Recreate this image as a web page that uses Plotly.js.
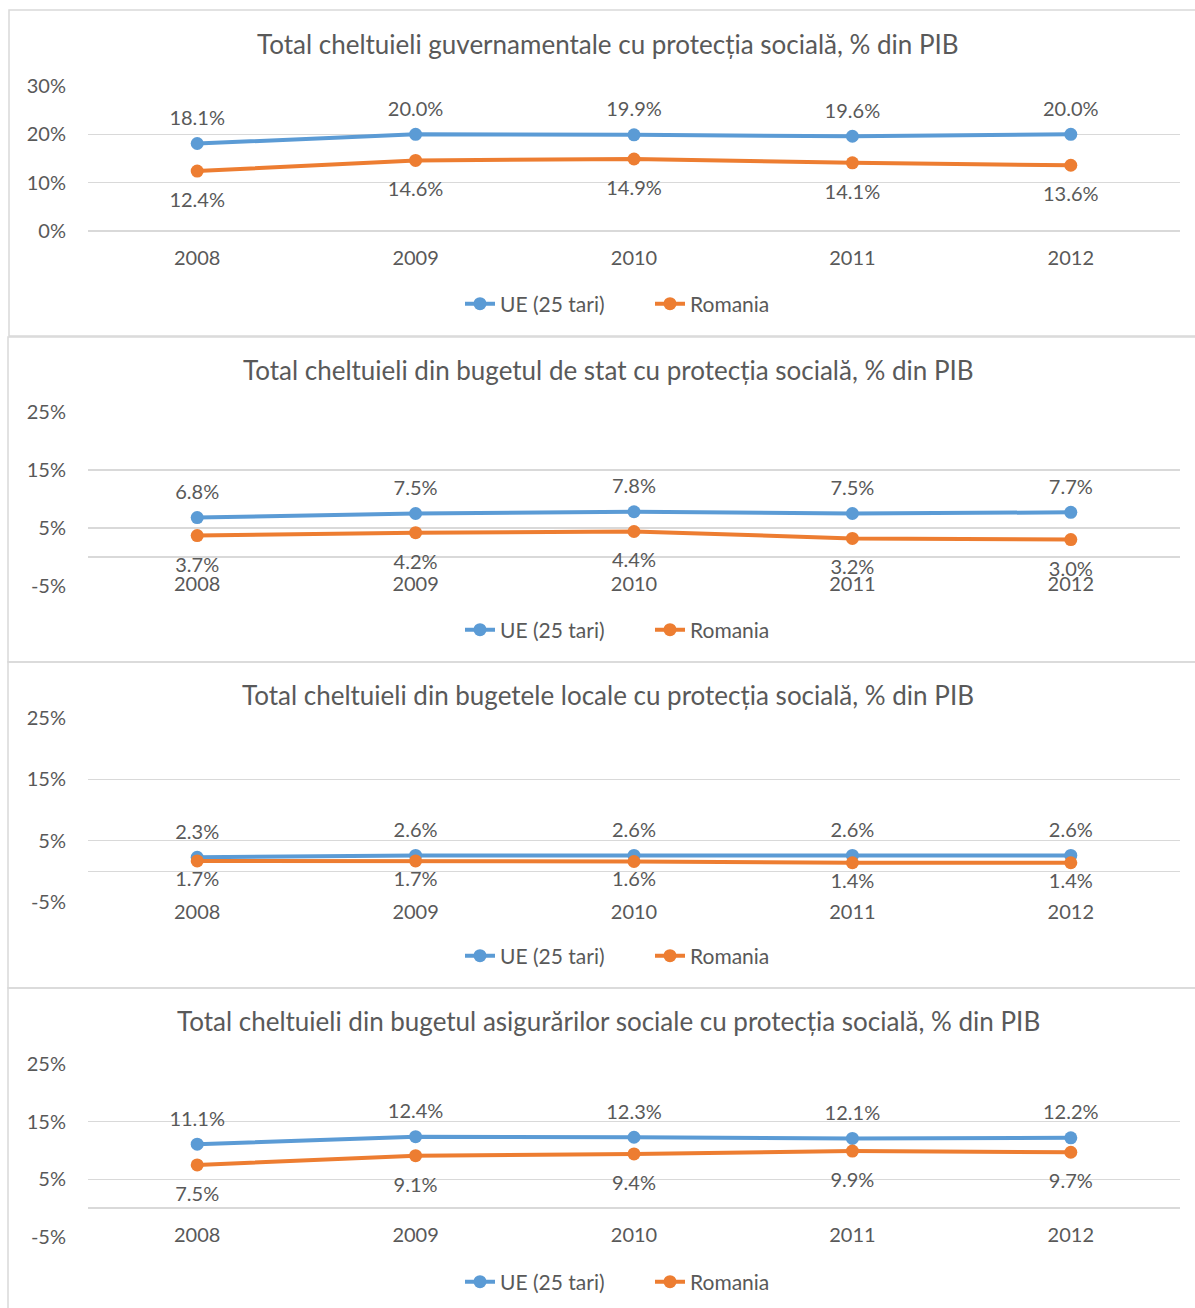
<!DOCTYPE html>
<html>
<head>
<meta charset="utf-8">
<script src="https://cdn.plot.ly/plotly-3.0.1.min.js"></script>
<style>
  html, body { margin: 0; padding: 0; background: #ffffff; }
  #chart { width: 1195px; height: 1308px; }
</style>
</head>
<body>
<div id="chart"></div>
<script>
// Years on the horizontal axis
const years = ['2008', '2009', '2010', '2011', '2012'];

// Series names
const seriesUE = 'UE (25 tari)';
const seriesRO = 'Romania';

// Panel titles
const titles = [
  'Total cheltuieli guvernamentale cu protecția socială, % din PIB',
  'Total cheltuieli din bugetul de stat cu protecția socială, % din PIB',
  'Total cheltuieli din bugetele locale cu protecția socială, % din PIB',
  'Total cheltuieli din bugetul asigurărilor sociale cu protecția socială, % din PIB'
];

// Social protection spending, % of GDP
const ueGuvernamentale = [18.1, 20.0, 19.9, 19.6, 20.0];
const roGuvernamentale = [12.4, 14.6, 14.9, 14.1, 13.6];

const ueBugetStat = [6.8, 7.5, 7.8, 7.5, 7.7];
const roBugetStat = [3.7, 4.2, 4.4, 3.2, 3.0];

const ueBugeteLocale = [2.3, 2.6, 2.6, 2.6, 2.6];
const roBugeteLocale = [1.7, 1.7, 1.6, 1.4, 1.4];

const ueAsigurari = [11.1, 12.4, 12.3, 12.1, 12.2];
const roAsigurari = [7.5, 9.1, 9.4, 9.9, 9.7];

// Y-axis ticks per panel
const tickValsPanel1 = [0, 10, 20, 30];
const tickTextPanel1 = ['0%', '10%', '20%', '30%'];
const tickValsOther = [-5, 5, 15, 25];
const tickTextOther = ['-5%', '5%', '15%', '25%'];

const W = 1195, H = 1308;
const py = px => 1 - px / H;   // pixel row -> paper y
const pxX = px => px / W;      // pixel column -> paper x

const BLUE = '#5B9BD5';
const ORANGE = '#ED7D31';
const TEXT = '#595959';
const GRID = '#D9D9D9';
const FONT = 'Lato, "Open Sans", sans-serif';

// Layout geometry of the four stacked panels (pixels)
const panels = [
  { ue: ueGuvernamentale, ro: roGuvernamentale, range: [0, 30],
    tickvals: tickValsPanel1, ticktext: tickTextPanel1,
    top: 86, bottom: 231, axisY: 244, titleY: 44, legendY: 304, box: [9, 10, 336], below: 32 },
  { ue: ueBugetStat, ro: roBugetStat, range: [-5, 25],
    tickvals: tickValsOther, ticktext: tickTextOther,
    top: 412, bottom: 586, axisY: 570, titleY: 370, legendY: 630, box: [8, 337, 662], below: 32 },
  { ue: ueBugeteLocale, ro: roBugeteLocale, range: [-5, 25],
    tickvals: tickValsOther, ticktext: tickTextOther,
    top: 718, bottom: 902, axisY: 898, titleY: 695, legendY: 956, box: [8, 662, 988], below: 14 },
  { ue: ueAsigurari, ro: roAsigurari, range: [-5, 25],
    tickvals: tickValsOther, ticktext: tickTextOther,
    top: 1064, bottom: 1237, axisY: 1221, titleY: 1021, legendY: 1282, box: [8, 988, 1312], below: 32 }
];

const data = [];
const layout = {
  width: W, height: H,
  margin: { l: 0, r: 0, t: 0, b: 0 },
  paper_bgcolor: '#ffffff',
  plot_bgcolor: '#ffffff',
  font: { family: FONT, color: TEXT, size: 20 },
  showlegend: true,
  annotations: [],
  shapes: []
};

panels.forEach((p, i) => {
  const n = i + 1;
  const xa = n === 1 ? 'x' : 'x' + n;
  const ya = n === 1 ? 'y' : 'y' + n;
  const lg = n === 1 ? 'legend' : 'legend' + n;

  // Series lines with markers
  data.push({
    type: 'scatter', mode: 'lines+markers', name: seriesUE,
    x: years, y: p.ue, xaxis: xa, yaxis: ya, legend: lg,
    line: { color: BLUE, width: 4 }, marker: { color: BLUE, size: 13 },
    hoverinfo: 'skip'
  });
  data.push({
    type: 'scatter', mode: 'lines+markers', name: seriesRO,
    x: years, y: p.ro, xaxis: xa, yaxis: ya, legend: lg,
    line: { color: ORANGE, width: 4 }, marker: { color: ORANGE, size: 13 },
    hoverinfo: 'skip'
  });

  // Value labels (transparent markers set the label offset)
  data.push({
    type: 'scatter', mode: 'markers+text', showlegend: false,
    x: years, y: p.ue, xaxis: xa, yaxis: ya,
    marker: { color: 'rgba(0,0,0,0)', size: 20 },
    texttemplate: '%{y:.1f}%', textposition: 'top center',
    textfont: { family: FONT, color: TEXT, size: 20 },
    cliponaxis: false, hoverinfo: 'skip'
  });
  data.push({
    type: 'scatter', mode: 'markers+text', showlegend: false,
    x: years, y: p.ro, xaxis: xa, yaxis: ya,
    marker: { color: 'rgba(0,0,0,0)', size: p.below },
    texttemplate: '%{y:.1f}%', textposition: 'bottom center',
    textfont: { family: FONT, color: TEXT, size: 20 },
    cliponaxis: false, hoverinfo: 'skip'
  });

  layout['xaxis' + (n === 1 ? '' : n)] = {
    type: 'category', range: [-0.5, 4.5],
    domain: [pxX(88), pxX(1180)],
    anchor: 'free', position: py(p.axisY),
    showgrid: false, zeroline: false, showline: false, ticks: '',
    tickfont: { family: FONT, color: TEXT, size: 20 },
    fixedrange: true
  };
  layout['yaxis' + (n === 1 ? '' : n)] = {
    range: p.range, domain: [py(p.bottom), py(p.top)],
    anchor: xa,
    tickmode: 'array', tickvals: p.tickvals, ticktext: p.ticktext,
    showgrid: true, gridcolor: GRID, gridwidth: 1.5,
    zeroline: true, zerolinecolor: GRID, zerolinewidth: 1.5,
    showline: false, ticks: 'outside', ticklen: 17, tickcolor: 'rgba(0,0,0,0)',
    tickfont: { family: FONT, color: TEXT, size: 20 },
    fixedrange: true
  };
  layout[lg] = {
    orientation: 'h', x: pxX(460), xanchor: 'left',
    y: py(p.legendY), yanchor: 'middle',
    entrywidth: 145, entrywidthmode: 'pixels',
    font: { family: FONT, color: TEXT, size: 21 },
    bgcolor: 'rgba(0,0,0,0)', itemclick: false, itemdoubleclick: false
  };

  layout.annotations.push({
    text: titles[i], xref: 'paper', yref: 'paper',
    x: 0.509, y: py(p.titleY), xanchor: 'center', yanchor: 'middle',
    showarrow: false, font: { family: FONT, color: TEXT, size: 26 }
  });

  layout.shapes.push({
    type: 'rect', xref: 'paper', yref: 'paper',
    x0: pxX(p.box[0]), x1: pxX(W + 5), y0: py(p.box[2]), y1: py(p.box[1]),
    line: { color: GRID, width: 1.5 }, fillcolor: 'rgba(0,0,0,0)', layer: 'below'
  });
});

Plotly.newPlot('chart', data, layout, { staticPlot: true, displayModeBar: false });
</script>
</body>
</html>
